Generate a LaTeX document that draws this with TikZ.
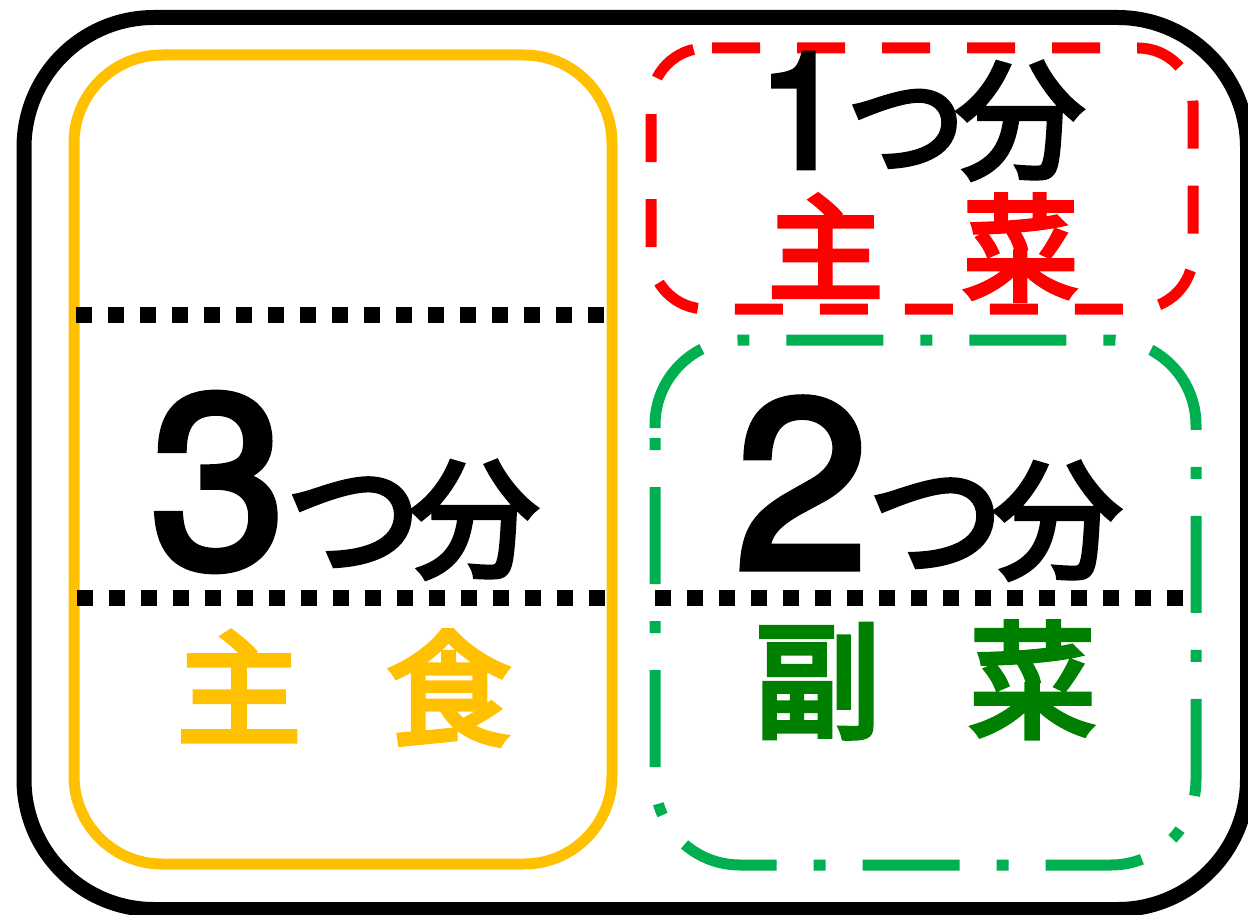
\documentclass[tikz,border=0pt]{standalone}
\usepackage{fontspec}
\newfontfamily\digitfont{TeX Gyre Heros}[FakeBold=3]
\newfontfamily\cjkfont{Noto Sans CJK JP}[FakeBold=4.5]
\definecolor{yel}{HTML}{FFC000}
\definecolor{rd}{HTML}{FF0000}
\definecolor{grn}{HTML}{00B050}
\definecolor{dgrn}{HTML}{008000}
\newcommand\dsz[1]{\digitfont\fontsize{#1}{#1}\selectfont}
\newcommand\csz[1]{\cjkfont\fontsize{#1}{#1}\selectfont}
\begin{document}
\begin{tikzpicture}[x=1pt,y=-1pt,
  box/.style={line width=11pt},
  dotline/.style={line width=16pt, dash pattern=on 16pt off 16pt},
  lbl/.style={inner sep=0pt, outer sep=0pt}]
\useasboundingbox (0,0) rectangle (1248,915);
% outer tray
\draw[line width=15pt, rounded corners=130pt] (24,17.5) rectangle (1247.5,909.5);
% staple food box
\draw[box, draw=yel, rounded corners=88pt] (74,55) rectangle (612,864);
% main dish box
\draw[box, draw=rd, rounded corners=55pt, dash pattern=on 48pt off 37pt]
  (712,48) -- (1193,48) -- (1193,309) -- (651,309) -- (651,48) -- (713,48);
% side dish box
\draw[box, draw=grn, rounded corners=85pt, dash pattern=on 97pt off 37pt on 12pt off 37pt]
  (655,428) -- (655,340) -- (1196,340) -- (1196,865) -- (655,865) -- (655,427);
% dotted dividers
\draw[dotline] (76,315) -- (604,315);
\draw[dotline] (77,598) -- (605,598);
\draw[dotline] (655,598) -- (1183,598);
% texts
\node[lbl, anchor=base west] (one) at (757,168)
  {\dsz{162}1\csz{118}つ\kern-9pt\csz{128}分};
\node[lbl, anchor=base west] (three) at (150,567)
  {\dsz{245}3\csz{135}つ\kern-11pt\csz{128}分};
\node[lbl, anchor=base west] (two) at (735,568)
  {\dsz{240}2\csz{135}つ\kern-10pt\csz{128}分};
\node[lbl, text=rd] (shusai) at (923,247.5) {\csz{115}主\hskip80pt 菜};
\node[lbl, text=yel] (shushoku) at (344,688) {\csz{124}主\hskip86pt 食};
\node[lbl, text=dgrn] (fukusai) at (925,680) {\csz{126}副\hskip89pt 菜};
\end{tikzpicture}
\end{document}
